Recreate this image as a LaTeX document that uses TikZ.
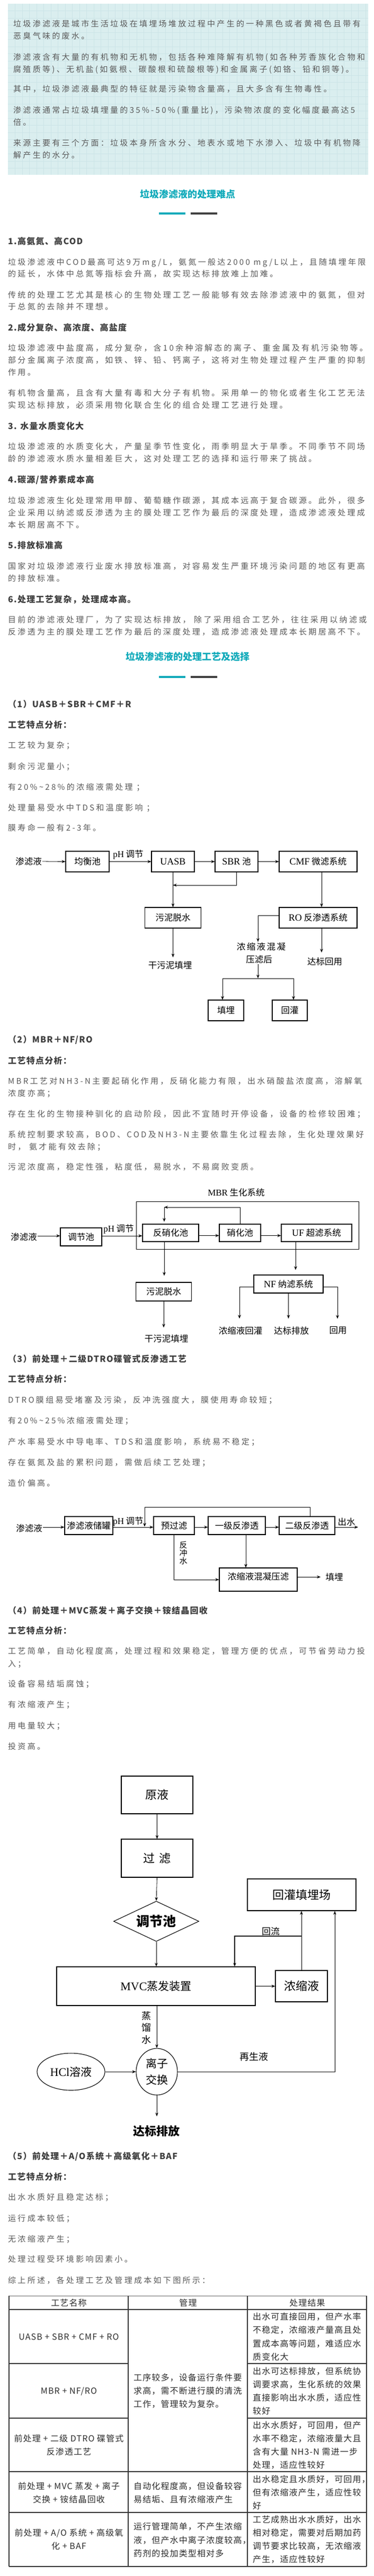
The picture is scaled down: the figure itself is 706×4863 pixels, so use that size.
\documentclass[tikz,border=0pt]{standalone}
\usepackage{fontspec}
\setmainfont{Noto Sans CJK SC}
\newfontfamily\bodyf[LetterSpace=22]{Noto Sans CJK SC}
\newfontfamily\hdf[LetterSpace=8]{Noto Sans CJK SC}
\newfontfamily\tabf[LetterSpace=7]{Noto Sans CJK SC}
\newfontfamily\dgf{Noto Sans CJK SC}
\newfontfamily\dgsp[LetterSpace=15]{Noto Sans CJK SC}
\newfontfamily\tms{Liberation Serif}
\usetikzlibrary{arrows.meta,shapes.geometric}
\definecolor{bodyc}{RGB}{90,90,90}
\definecolor{headc}{RGB}{62,62,62}
\definecolor{tealc}{RGB}{16,170,186}
\definecolor{boxbg}{RGB}{218,238,239}
\definecolor{gridc}{RGB}{204,228,231}
\definecolor{barg}{RGB}{64,64,64}
\definecolor{tabc}{RGB}{45,45,45}
\definecolor{tabl}{RGB}{55,55,55}
\tikzset{
 body/.style={anchor=base west, inner sep=0pt, text=bodyc, font=\bodyf\fontsize{15}{18}\selectfont},
 hd/.style={anchor=base west, inner sep=0pt, text=headc, font=\hdf\bfseries\fontsize{16}{19}\selectfont},
 sec/.style={anchor=base, inner sep=0pt, text=tealc, font=\dgf\bfseries\fontsize{18}{21}\selectfont},
 tab/.style={inner sep=0pt, text=tabc, font=\tabf\fontsize{16}{19}\selectfont},
 dbox/.style={draw=black, line width=1.1pt, inner sep=0pt, text=black, font=\dgf\fontsize{16.5}{19}\selectfont},
 dtxt/.style={inner sep=1pt, text=black, font=\dgf\fontsize{16.5}{19}\selectfont},
 arr/.style={draw=black, line width=0.8pt, -{Stealth[length=7pt,width=5.5pt]}},
 ln/.style={draw=black, line width=0.8pt},
 tline/.style={draw=tabl, line width=1.2pt},
}
\newcounter{tlc}
\newcommand\BL[2]{\stepcounter{tlc}\node[body] (t\thetlc) at (15,#1+5.7) {#2};}
\newcommand\BX[2]{\stepcounter{tlc}\node[body] (t\thetlc) at (25,#1+5.7) {#2};}
\newcommand\HL[2]{\stepcounter{tlc}\node[hd] (t\thetlc) at (15,#1+6.1) {#2};}
\newcommand\SH[2]{\stepcounter{tlc}\node[sec] (t\thetlc) at (354,#1+6.8) {#2};}
\newcommand\TL[3]{\stepcounter{tlc}\node[tab,anchor=base west] (t\thetlc) at (#1,#2+6.1) {#3};}
\newcommand\TC[3]{\stepcounter{tlc}\node[tab,anchor=base] (t\thetlc) at (#1,#2+6.1) {#3};}
\begin{document}
\begin{tikzpicture}[x=1pt,y=-1pt]
\fill[white] (0,0) rectangle (706,4863);
\path[use as bounding box] (0,0) rectangle (706,4863);
% ---------- intro box ----------
\fill[boxbg] (15,7) rectangle (695,330);
\foreach \gx in {28.5,42,...,690} \draw[gridc, line width=0.6pt] (\gx,7) -- (\gx,330);
\foreach \gy in {20.5,34,...,326} \draw[gridc, line width=0.6pt] (15,\gy) -- (695,\gy);
\BX{45}{垃圾渗滤液是城市生活垃圾在填埋场堆放过程中产生的一种黑色或者黄褐色且带有}
\BX{68}{恶臭气味的废水。}
\BX{108}{渗滤液含有大量的有机物和无机物，包括各种难降解有机物(如各种芳香族化合物和}
\BX{131}{腐殖质等)、无机盐(如氨根、碳酸根和硫酸根等)和金属离子(如铬、铅和铜等)。}
\BX{168}{其中，垃圾渗滤液最典型的特征就是污染物含量高，且大多含有生物毒性。}
\BX{208}{渗滤液通常占垃圾填埋量的35\%-50\%(重量比)，污染物浓度的变化幅度最高达5}
\BX{231}{倍。}
\BX{270}{来源主要有三个方面：垃圾本身所含水分、地表水或地下水渗入、垃圾中有机物降}
\BX{293}{解产生的水分。}
% ---------- section: difficulties ----------
\SH{367}{垃圾渗滤液的处理难点}
\fill[tealc] (300,401) rectangle (350,405);
\fill[barg] (360,401) rectangle (410,405);
\HL{455}{1.高氨氮、高COD}
\BL{495}{垃圾渗滤液中COD最高可达9万mg/L，氨氮一般达2000 mg/L以上，且随填埋年限}
\BL{517}{的延长，水体中总氮等指标会升高，故实现达标排放难上加难。}
\BL{557}{传统的处理工艺尤其是核心的生物处理工艺一般能够有效去除渗滤液中的氨氮，但对}
\BL{579}{于总氮的去除并不理想。}
\HL{618}{2.成分复杂、高浓度、高盐度}
\BL{657}{垃圾渗滤液中盐度高，成分复杂，含10余种溶解态的离子、重金属及有机污染物等。}
\BL{680}{部分金属离子浓度高，如铁、锌、铅、钙离子，这将对生物处理过程产生严重的抑制}
\BL{703}{作用。}
\BL{742}{有机物含量高，且含有大量有毒和大分子有机物。采用单一的物化或者生化工艺无法}
\BL{765}{实现达标排放，必须采用物化联合生化的组合处理工艺进行处理。}
\HL{804}{3. 水量水质变化大}
\BL{843}{垃圾渗滤液的水质变化大，产量呈季节性变化，雨季明显大于旱季。不同季节不同场}
\BL{866}{龄的渗滤液水质水量相差巨大，这对处理工艺的选择和运行带来了挑战。}
\HL{905}{4.碳源/营养素成本高}
\BL{945}{垃圾渗滤液生化处理常用甲醇、葡萄糖作碳源，其成本远高于复合碳源。此外，很多}
\BL{968}{企业采用以纳滤或反渗透为主的膜处理工艺作为最后的深度处理，造成渗滤液处理成}
\BL{991}{本长期居高不下。}
\HL{1029}{5.排放标准高}
\BL{1069}{国家对垃圾渗滤液行业废水排放标准高，对容易发生严重环境污染问题的地区有更高}
\BL{1092}{的排放标准。}
\HL{1131}{6.处理工艺复杂，处理成本高。}
\BL{1170}{目前的渗滤液处理厂，为了实现达标排放， 除了采用组合工艺外，往往采用以纳滤或}
\BL{1193}{反渗透为主的膜处理工艺作为最后的深度处理，造成渗滤液处理成本长期居高不下。}
% ---------- section: processes ----------
\SH{1240}{垃圾渗滤液的处理工艺及选择}
\fill[tealc] (300,1276) rectangle (350,1280);
\fill[barg] (360,1276) rectangle (410,1280);
\HL{1329}{（1）UASB＋SBR＋CMF＋R}
\HL{1368}{工艺特点分析：}
\BL{1407}{工艺较为复杂；}
\BL{1447}{剩余污泥量小；}
\BL{1486}{有20\%\textasciitilde 28\%的浓缩液需处理 ；}
\BL{1525}{处理量易受水中TDS和温度影响 ；}
\BL{1563}{膜寿命一般有2-3年。}
% ---------- diagram 1 ----------
\node[dtxt] (a0) at (54,1626) {渗滤液};
\node[dbox, minimum width=82, minimum height=39] (a1) at (165,1626.5) {均衡池};
\node[dbox, minimum width=81, minimum height=39] (a2) at (326.5,1626.5) {\tms\fontsize{18}{20}\selectfont UASB};
\node[dbox, minimum width=81, minimum height=39] (a3) at (446.5,1626.5) {{\tms\fontsize{18}{20}\selectfont SBR} 池};
\node[dbox, minimum width=147, minimum height=39] (a4) at (600.5,1626.5) {{\tms\fontsize{18}{20}\selectfont CMF} 微滤系统};
\node[dtxt] (a5) at (242,1613) {{\tms\fontsize{17}{19}\selectfont pH} 调节};
\draw[arr] (a0.east) -- (a1.west);
\draw[arr] (a1.east) -- (a2.west);
\draw[arr] (a2.east) -- (a3.west);
\draw[arr] (a3.east) -- (a4.west);
\node[dbox, minimum width=106, minimum height=39] (a6) at (326.5,1732.5) {污泥脱水};
\node[dbox, minimum width=147, minimum height=39] (a7) at (600.5,1732.5) {{\tms\fontsize{18}{20}\selectfont RO} 反渗透系统};
\coordinate (a8) at (326.5,1671);
\draw[arr] (a2.south) -- (a6.north);
\draw[arr] (a3.south) |- (a8);
\draw[arr] ([xshift=6.5pt]a4.south) -- ([xshift=6.5pt]a7.north);
\node[dtxt] (a9) at (321,1822) {干污泥填埋};
\draw[arr, shorten >=6pt] (a6.south) -- (a6.south |- a9.north);
\node[dtxt, font=\dgsp\fontsize{16.5}{19}\selectfont] (a10) at (493,1787) {浓缩液混凝};
\node[dtxt] (a11) at (489,1811) {压滤后};
\draw[arr] ([yshift=4pt]a7.west) -| ([xshift=-6pt]a10.north);
\node[dtxt] (a13) at (613,1815) {达标回用};
\draw[arr, shorten >=8pt] ([xshift=6.5pt]a7.south) -- ([xshift=6.5pt]a7.south |- a13.north);
\coordinate (a14) at (487,1847);
\coordinate (a15) at (420,1847);
\coordinate (a16) at (554,1847);
\draw[arr] ([xshift=-2pt]a11.south) -- (a14);
\draw[ln] (a15) -- (a16);
\node[dbox, minimum width=67, minimum height=39] (a17) at (426.5,1907.5) {填埋};
\node[dbox, minimum width=66, minimum height=39] (a18) at (547,1907.5) {回灌};
\draw[arr] (a15) -- (a15 |- a17.north);
\draw[arr] (a16) -- (a16 |- a18.north);
% ---------- section 2 ----------
\HL{1962}{（2）MBR＋NF/RO}
\HL{2002}{工艺特点分析：}
\BL{2041}{MBR工艺对NH3-N主要起硝化作用，反硝化能力有限，出水硝酸盐浓度高，溶解氧}
\BL{2064}{浓度亦高；}
\BL{2103}{存在生化的生物接种驯化的启动阶段，因此不宜随时开停设备，设备的检修较困难；}
\BL{2142}{系统控制要求较高，BOD、COD及NH3-N主要依靠生化过程去除，生化处理效果好}
\BL{2165}{时， 氨才能有效去除；}
\BL{2203}{污泥浓度高，稳定性强，粘度低，易脱水，不易腐败变质。}
% ---------- diagram 2 ----------
\node[dtxt] (b0) at (446,2251) {{\tms\fontsize{17}{19}\selectfont MBR} 生化系统};
\node[draw=black, line width=0.9pt, minimum width=420, minimum height=90, inner sep=0pt] (b1) at (467,2313) {};
\node[dbox, minimum width=106, minimum height=33] (b2) at (322,2327.5) {反硝化池};
\node[dbox, minimum width=78, minimum height=33] (b3) at (453,2327.5) {硝化池};
\node[dbox, minimum width=133, minimum height=33] (b4) at (597.5,2327.5) {{\tms\fontsize{18}{20}\selectfont UF} 超滤系统};
\node[dbox, minimum width=78, minimum height=34] (b5) at (153,2335) {调节池};
\node[dtxt] (b6) at (45,2335) {渗滤液};
\node[dtxt] (b7) at (224,2320) {{\tms\fontsize{17}{19}\selectfont pH} 调节};
\draw[arr] ([yshift=2pt]b6.east) -- ([yshift=2pt]b6.east -| b5.west);
\draw[arr] ([yshift=2pt]b5.east) -- ([yshift=2pt]b5.east -| b2.west);
\draw[arr] ([yshift=-5pt]b2.east) -- ([yshift=-5pt]b2.east -| b3.west);
\draw[arr] ([yshift=-5pt]b3.east) -- ([yshift=-5pt]b3.east -| b4.west);
\coordinate (b8) at (310,2279);
\draw[arr] (b3.north) |- (b8);
\draw[arr, shorten >=4pt] (b8) -- (b8 |- b2.north);
\node[dbox, minimum width=105, minimum height=35] (b9) at (309,2438.5) {污泥脱水};
\draw[arr, shorten >=12pt] (b2.south -| b8) -- (b8 |- b9.north);
\node[dtxt] (b10) at (314,2527) {干污泥填埋};
\draw[arr, shorten >=12pt] (b9.south) -- (b9.south |- b10.north);
\node[dbox, minimum width=131, minimum height=34] (b11) at (544.5,2424) {{\tms\fontsize{18}{20}\selectfont NF} 纳滤系统};
\draw[arr, shorten >=9pt] ([xshift=-39.5pt]b4.south) -- ([xshift=-39.5pt]b4.south |- b11.north);
\node[dtxt] (b13) at (454,2512) {浓缩液回灌};
\node[dtxt] (b14) at (550,2512) {达标排放};
\node[dtxt] (b15) at (638,2512) {回用};
\draw[arr, shorten >=14pt] ([yshift=-5pt]b11.west) -| ([xshift=-2pt]b13.north);
\draw[arr, shorten >=14pt] (b11.south) -- (b11.south |- b14.north);
\draw[arr, shorten >=14pt] ([yshift=-5pt]b11.east) -| ([xshift=-1pt]b15.north);
% ---------- section 3 ----------
\HL{2565}{（3）前处理＋二级DTRO碟管式反渗透工艺}
\HL{2603}{工艺特点分析：}
\BL{2643}{DTRO膜组易受堵塞及污染，反冲洗强度大，膜使用寿命较短；}
\BL{2682}{有20\%\textasciitilde 25\%浓缩液需处理；}
\BL{2722}{产水率易受水中导电率、TDS和温度影响，系统易不稳定；}
\BL{2761}{存在氨氮及盐的累积问题，需做后续工艺处理；}
\BL{2800}{造价偏高。}
% ---------- diagram 3 ----------
\node[dtxt] (c0) at (55,2885) {渗滤液};
\node[dbox, minimum width=91, minimum height=34] (c1) at (167.5,2880) {渗滤液储罐};
\node[dbox, minimum width=77, minimum height=34] (c2) at (328.5,2880) {预过滤};
\node[dbox, minimum width=108, minimum height=34] (c3) at (447,2880) {一级反渗透};
\node[dbox, minimum width=105, minimum height=34] (c4) at (579.5,2880) {二级反渗透};
\node[dtxt] (c5) at (242,2872) {{\tms\fontsize{17}{19}\selectfont pH} 调节};
\node[dtxt] (c6) at (654,2873) {出水};
\coordinate (c7) at (676,2883);
\draw[arr] ([yshift=2pt]c0.east) -- ([yshift=2pt]c0.east -| c1.west);
\draw[arr] ([yshift=-3pt]c1.east) -- ([yshift=-3pt]c1.east -| c2.west);
\draw[arr] ([yshift=-3pt]c2.east) -- ([yshift=-3pt]c2.east -| c3.west);
\draw[arr] ([yshift=-3pt]c3.east) -- ([yshift=-3pt]c3.east -| c4.west);
\draw[arr] ([yshift=-3pt]c4.east) -- (c7);
\coordinate (c8) at (273,2845);
\coordinate (c9) at (273,2882);
\draw[arr] ([xshift=5.5pt]c4.north) |- (c8) -- (c9);
\node[dbox, minimum width=147, minimum height=44, text depth=12pt] (c10) at (487.5,2982) {浓缩液混凝压滤};
\draw[arr] (c2.south) |- (c10.west);
\node[dtxt, align=center, font=\dgf\fontsize{15}{15}\selectfont] (c11) at (346,2932) {反\\冲\\水};
\draw[arr] ([xshift=17pt]c3.south) -- ([xshift=17pt]c3.south |- c10.north);
\node[dtxt] (c12) at (631,2977) {填埋};
\draw[arr, shorten >=8pt] ([yshift=5pt]c10.east) -- ([yshift=5pt]c10.east -| c12.west);
% ---------- section 4 ----------
\HL{3040}{（4）前处理＋MVC蒸发＋离子交换＋铵结晶回收}
\HL{3078}{工艺特点分析：}
\BL{3117}{工艺简单，自动化程度高，处理过程和效果稳定，管理方便的优点，可节省劳动力投}
\BL{3141}{入；}
\BL{3179}{设备容易结垢腐蚀；}
\BL{3218}{有浓缩液产生；}
\BL{3258}{用电量较大；}
\BL{3297}{投资高。}
% ---------- diagram 4 ----------
\node[dbox, font=\dgf\fontsize{22}{26}\selectfont, minimum width=135, minimum height=71] (d1) at (296.5,3388.5) {原液};
\node[dbox, font=\dgf\fontsize{22}{26}\selectfont, minimum width=135, minimum height=72] (d2) at (296.5,3508) {过\hspace{8pt}滤};
\node[diamond, draw=black, line width=1.1pt, aspect=2.1, inner sep=1pt, minimum width=161, minimum height=76, font=\dgf\bfseries\fontsize{25}{30}\selectfont] (d3) at (295,3627) {调节池};
\node[dbox, font=\dgf\fontsize{21}{25}\selectfont, minimum width=375, minimum height=73] (d4) at (294.5,3749.5) {{\tms\fontsize{22}{25}\selectfont MVC}蒸发装置};
\node[dbox, font=\dgf\fontsize{22}{26}\selectfont, minimum width=205, minimum height=60] (d5) at (569.5,3577) {回灌填埋场};
\node[dbox, font=\dgf\fontsize{22}{26}\selectfont, minimum width=98, minimum height=59] (d6) at (569,3749.5) {浓缩液};
\node[ellipse, draw=black, line width=1.1pt, minimum width=78, minimum height=88, inner sep=0pt, align=center, font=\dgf\fontsize{21}{31}\selectfont] (d7) at (296,3911) {离子\\交换};
\node[ellipse, draw=black, line width=1.1pt, minimum width=128, minimum height=70, inner sep=0pt, font=\dgf\fontsize{21}{25}\selectfont] (d8) at (134,3911) {{\tms\fontsize{22}{25}\selectfont HCl}溶液};
\node[dtxt, font=\dgf\bfseries\fontsize{22}{26}\selectfont] (d9) at (295,4023) {达标排放};
\node[dtxt, font=\dgf\fontsize{17}{20}\selectfont] (d10) at (511,3646) {回流};
\node[dtxt, font=\dgf\fontsize{18}{21}\selectfont] (d11) at (479,3883) {再生液};
\node[dtxt, align=center, font=\dgf\fontsize{18}{22.5}\selectfont] (d12) at (276,3828) {蒸\\馏\\水};
\draw[arr] (d1.south) -- (d2.north);
\draw[arr] (d2.south) -- (d3.north);
\draw[arr] (d3.south) -- (d3.south |- d4.north);
\draw[arr] (d4.east) -- (d6.west);
\draw[arr] (d6.north) -- (d6.north |- d5.south);
\coordinate (d13) at (569,3655);
\coordinate (d14) at (443,3655);
\draw[arr, line width=1.4pt] (d13) -- (d14) -- (d14 |- d4.north);
\draw[arr] (d7.north |- d4.south) -- (d7.north);
\draw[arr] (d8.east) -- (d7.west);
\draw[arr] (d7.east) -| ([xshift=62.5pt]d5.south);
\draw[arr, shorten >=16pt] (d7.south) -- (d7.south |- d9.north);
% ---------- section 5 ----------
\HL{4070}{（5）前处理＋A/O系统＋高级氧化＋BAF}
\HL{4109}{工艺特点分析：}
\BL{4148}{出水水质好且稳定达标；}
\BL{4188}{运行成本较低；}
\BL{4227}{无浓缩液产生；}
\BL{4265}{处理过程受环境影响因素小。}
\BL{4305}{综上所述，各处理工艺及管理成本如下图所示：}
% ---------- table ----------
\draw[tline, line width=1pt, draw={rgb,255:red,110;green,110;blue,110}] (17,4334) -- (692,4334);
\draw[tline, line width=1.5pt] (17,4360) -- (692,4360);
\draw[tline] (17,4462) -- (242,4462);
\draw[tline] (467,4462) -- (692,4462);
\draw[tline] (17,4565) -- (242,4565);
\draw[tline] (467,4565) -- (692,4565);
\draw[tline] (17,4666) -- (692,4666);
\draw[tline] (17,4743) -- (692,4743);
\draw[tline] (17,4845) -- (692,4845);
\draw[tline] (17,4334) -- (17,4845);
\draw[tline] (242,4334) -- (242,4845);
\draw[tline] (467,4334) -- (467,4845);
\draw[tline] (692,4334) -- (692,4845);
\TC{130}{4347}{工艺名称}
\TC{355}{4347}{管理}
\TC{580}{4347}{处理结果}
\TC{130}{4411}{UASB + SBR + CMF + RO}
\TL{477}{4373}{出水可直接回用，但产水率}
\TL{477}{4398}{不稳定，浓缩液产量高且处}
\TL{477}{4424}{置成本高等问题，难适应水}
\TL{477}{4449}{质变化大}
\TC{130}{4513}{MBR + NF/RO}
\TL{477}{4476}{出水可达标排放，但系统协}
\TL{477}{4501}{调要求高，生化系统的效果}
\TL{477}{4526}{直接影响出水水质，适应性}
\TL{477}{4551}{较好}
\TL{252}{4488}{工序较多，设备运行条件要}
\TL{252}{4513}{求高，需不断进行膜的清洗}
\TL{252}{4538}{工作，管理较为复杂。}
\TC{130}{4603}{前处理 + 二级 DTRO 碟管式}
\TC{130}{4628}{反渗透工艺}
\TL{477}{4578}{出水水质好，可回用，但产}
\TL{477}{4603}{水率不稳定，浓缩液量大且}
\TL{477}{4628}{含有大量 NH3-N 需进一步}
\TL{477}{4653}{处理，适应性较好}
\TC{130}{4693}{前处理 + MVC 蒸发 + 离子}
\TC{130}{4718}{交换 + 铵结晶回收}
\TL{252}{4693}{自动化程度高，但设备较容}
\TL{252}{4718}{易结垢、且有浓缩液产生}
\TL{477}{4680}{出水稳定且水质好，可回用，}
\TL{477}{4705}{但有浓缩液产生，适应性较}
\TL{477}{4730}{好}
\TC{130}{4781}{前处理 + A/O 系统 + 高级氧}
\TC{130}{4806}{化 + BAF}
\TL{252}{4769}{运行管理简单，不产生浓缩}
\TL{252}{4795}{液，但产水中离子浓度较高，}
\TL{252}{4820}{药剂的投加类型相对多}
\TL{477}{4756}{工艺成熟出水水质好，出水}
\TL{477}{4781}{相对稳定，需要对后期加药}
\TL{477}{4806}{调节要求比较高，无浓缩液}
\TL{477}{4831}{产生，适应性较好}
\end{tikzpicture}
\end{document}
